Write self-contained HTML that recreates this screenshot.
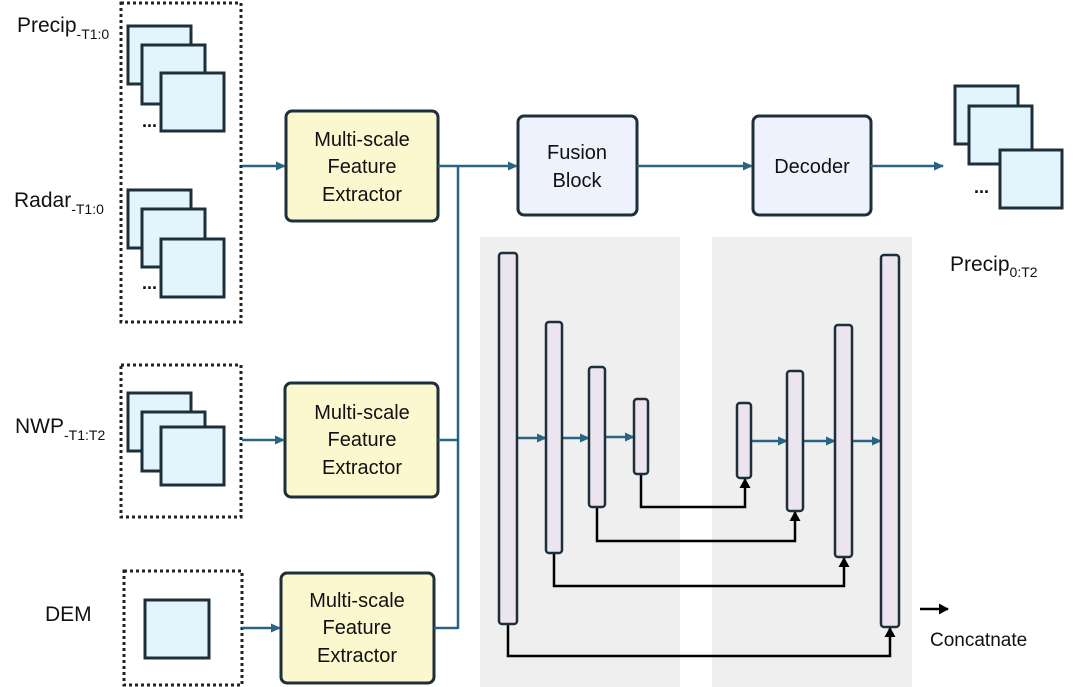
<!DOCTYPE html>
<html><head><meta charset="utf-8"><style>
html,body{margin:0;padding:0;background:#fff;}
svg{display:block;font-family:"Liberation Sans",sans-serif;}
</style></head><body>
<svg width="1080" height="687" viewBox="0 0 1080 687" xmlns="http://www.w3.org/2000/svg">
<defs>
<marker id="ab" markerWidth="10" markerHeight="10" refX="9" refY="5" orient="auto" markerUnits="userSpaceOnUse"><path d="M0,0.5 L10,5 L0,9.5 z" fill="#2a6485"/></marker>
<marker id="ak" markerWidth="10" markerHeight="12" refX="9" refY="6" orient="auto" markerUnits="userSpaceOnUse"><path d="M0,0.5 L10,6 L0,11.5 z" fill="#000"/></marker>
</defs>
<rect x="480" y="237" width="200" height="450" fill="#efefef"/>
<rect x="712" y="237" width="200" height="450" fill="#efefef"/>

<g fill="none" stroke="#222" stroke-width="3" stroke-dasharray="3,3">
<rect x="121" y="3" width="120" height="319"/>
<rect x="121" y="365" width="120" height="152"/>
<rect x="124" y="571" width="118" height="114"/>
</g>
<g fill="#e3f5fc" stroke="#1d2f3a" stroke-width="3">
<rect x="128" y="26" width="63" height="58"/><rect x="142" y="45" width="63" height="59"/><rect x="161" y="73" width="63" height="58"/>
<rect x="128" y="190" width="63" height="58"/><rect x="142" y="209" width="63" height="58"/><rect x="161" y="239" width="63" height="58"/>
<rect x="128" y="393" width="63" height="58"/><rect x="142" y="412" width="63" height="59"/><rect x="161" y="427" width="63" height="58"/>
<rect x="145" y="600" width="64" height="58"/>
<rect x="955" y="86" width="63" height="58"/><rect x="969" y="106" width="63" height="58"/><rect x="1000" y="150" width="62" height="58"/>
</g>
<g font-size="18" font-weight="bold" fill="#111">
<text x="142" y="127">...</text><text x="142" y="289">...</text><text x="974" y="193">...</text>
</g>
<g fill="#111" font-size="21">
<text x="17" y="32">Precip<tspan font-size="14" dy="7">-T1:0</tspan></text>
<text x="14" y="207">Radar<tspan font-size="14" dy="7">-T1:0</tspan></text>
<text x="15" y="433">NWP<tspan font-size="14" dy="7">-T1:T2</tspan></text>
<text x="45" y="621">DEM</text>
<text x="950" y="271">Precip<tspan font-size="14" dy="6">0:T2</tspan></text>
<text x="930" y="646" font-size="19">Concatnate</text>
</g>

<g fill="#fbf8cf" stroke="#1d2f3a" stroke-width="3">
<rect x="286" y="111" width="152" height="110" rx="6"/>
<rect x="285" y="383" width="153" height="114" rx="6"/>
<rect x="281" y="573" width="153" height="110" rx="6"/>
</g>
<g fill="#111" font-size="20" text-anchor="middle">
<text x="362" y="146">Multi-scale</text><text x="362" y="173">Feature</text><text x="362" y="201">Extractor</text>
<text x="362" y="419">Multi-scale</text><text x="362" y="446">Feature</text><text x="362" y="474">Extractor</text>
<text x="357" y="607">Multi-scale</text><text x="357" y="634">Feature</text><text x="357" y="662">Extractor</text>
</g>
<g fill="#eef2fd" stroke="#1d2f3a" stroke-width="3">
<rect x="518" y="116" width="119" height="99" rx="6"/>
<rect x="753" y="116" width="118" height="99" rx="6"/>
</g>
<g fill="#111" font-size="20" text-anchor="middle">
<text x="577" y="159">Fusion</text><text x="577" y="187">Block</text>
<text x="812" y="173">Decoder</text>
</g>

<g stroke="#2a6485" stroke-width="2.5" fill="none">
<line x1="242" y1="166" x2="285" y2="166" marker-end="url(#ab)"/>
<line x1="242" y1="440" x2="284" y2="440" marker-end="url(#ab)"/>
<line x1="242" y1="628" x2="280" y2="628" marker-end="url(#ab)"/>
<line x1="438" y1="166" x2="517" y2="166" marker-end="url(#ab)"/>
<line x1="438" y1="440" x2="458" y2="440"/>
<line x1="434" y1="628" x2="458" y2="628"/>
<line x1="458" y1="166" x2="458" y2="629"/>
<line x1="637" y1="166" x2="752" y2="166" marker-end="url(#ab)"/>
<line x1="871" y1="166" x2="943" y2="166" marker-end="url(#ab)"/>
<line x1="517" y1="438" x2="546" y2="438" marker-end="url(#ab)"/>
<line x1="562" y1="438" x2="589" y2="438" marker-end="url(#ab)"/>
<line x1="605" y1="437" x2="634" y2="437" marker-end="url(#ab)"/>
<line x1="751" y1="441" x2="787" y2="441" marker-end="url(#ab)"/>
<line x1="803" y1="441" x2="835" y2="441" marker-end="url(#ab)"/>
<line x1="852" y1="441" x2="881" y2="441" marker-end="url(#ab)"/>
</g>
<g stroke="#000" stroke-width="2.5" fill="none">
<polyline points="641,474 641,507 745,507 745,479" marker-end="url(#ak)"/>
<polyline points="597,507 597,541 795,541 795,512" marker-end="url(#ak)"/>
<polyline points="554,553 554,586 844,586 844,558" marker-end="url(#ak)"/>
<polyline points="508,624 508,656 890,656 890,628" marker-end="url(#ak)"/>
<line x1="920" y1="609" x2="948" y2="609" marker-end="url(#ak)"/>
</g>
<g fill="#ece4ee" stroke="#1d2f3a" stroke-width="2.5">
<rect x="499" y="253" width="18" height="371" rx="3"/>
<rect x="546" y="322" width="16" height="231" rx="3"/>
<rect x="589" y="367" width="16" height="140" rx="3"/>
<rect x="634" y="399" width="14" height="75" rx="3"/>
<rect x="737" y="403" width="14" height="75" rx="3"/>
<rect x="787" y="371" width="16" height="140" rx="3"/>
<rect x="835" y="325" width="17" height="232" rx="3"/>
<rect x="881" y="255" width="18" height="372" rx="3"/>
</g>
</svg>
</body></html>
